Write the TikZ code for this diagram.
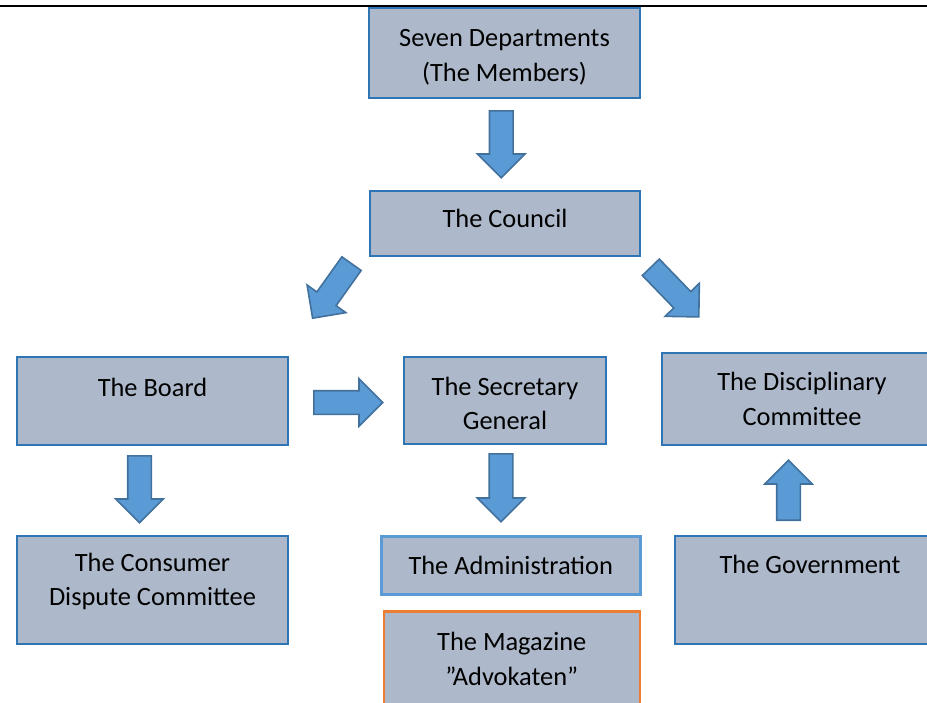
\documentclass[tikz,border=0pt]{standalone}
\usepackage{fontspec}
\setmainfont{Carlito}
\usetikzlibrary{shapes.arrows}

\definecolor{boxfill}{HTML}{ADB9CA}
\definecolor{boxline}{HTML}{2E75B6}
\definecolor{arrowfill}{HTML}{5B9BD5}
\definecolor{arrowline}{HTML}{41719C}
\definecolor{orangeline}{HTML}{ED7D31}

\tikzset{
  orgbox/.style={draw=boxline, fill=boxfill, line width=2pt, anchor=north west,
    align=center, inner sep=2pt, font=\fontsize{26.4}{34.5}\selectfont},
  blockarrow/.style={single arrow, draw=arrowline, fill=arrowfill, line width=1.6pt,
    inner sep=11pt, single arrow head extend=12pt, minimum height=#1, anchor=tail},
}

\begin{document}
\begin{tikzpicture}[x=1pt, y=-1pt]
\useasboundingbox (0,0) rectangle (927,702);
\draw[line width=2.8pt] (0,6) -- (927,6);

% boxes
\node[orgbox, minimum width=271, minimum height=90] (members) at (368,7) {\rule{0pt}{25.5pt}Seven Departments\\(The Members)};
\node[orgbox, minimum width=270, minimum height=65, text depth=11pt] (council) at (369,190) {The Council};
\node[orgbox, minimum width=271, minimum height=88, text depth=28pt] (board) at (16,356) {The Board};
\node[orgbox, minimum width=202, minimum height=87] (secretary) at (403,356) {\rule{0pt}{24.3pt}The Secretary\\General};
\node[orgbox, minimum width=280, minimum height=92] (disciplinary) at (661,352) {The Disciplinary\\Committee};
\node[orgbox, minimum width=271, minimum height=108] (consumer) at (16,535) {The Consumer\\Dispute Committee\rule[-21.5pt]{0pt}{0pt}};
\node[orgbox, draw=arrowfill, line width=2.5pt, minimum width=259, minimum height=58] (admin) at (380,535) {The Administration};
\node[orgbox, draw=orangeline, line width=2.5pt, minimum width=256, minimum height=95] (magazine) at (382.5,610) {The Magazine\\”Advokaten”};
\node[orgbox, minimum width=270, minimum height=108, text depth=52pt] (government) at (674,535) {The Government};

% arrows
\node[blockarrow=67, rotate=-90] (tocouncil) at (501.3,110) {};
\node[blockarrow=67, rotate=-125.5] (toboard) at (352,263) {};
\node[blockarrow=69, rotate=-46] (todisciplinary) at (650.3,266.7) {};
\node[blockarrow=69] (tosecretary) at (313,402.5) {};
\node[blockarrow=67, rotate=-90] (toconsumer) at (139.5,455) {};
\node[blockarrow=68, rotate=-90] (toadmin) at (501,453) {};
\node[blockarrow=60, rotate=90] (fromgovernment) at (788.5,521) {};
\end{tikzpicture}
\end{document}
